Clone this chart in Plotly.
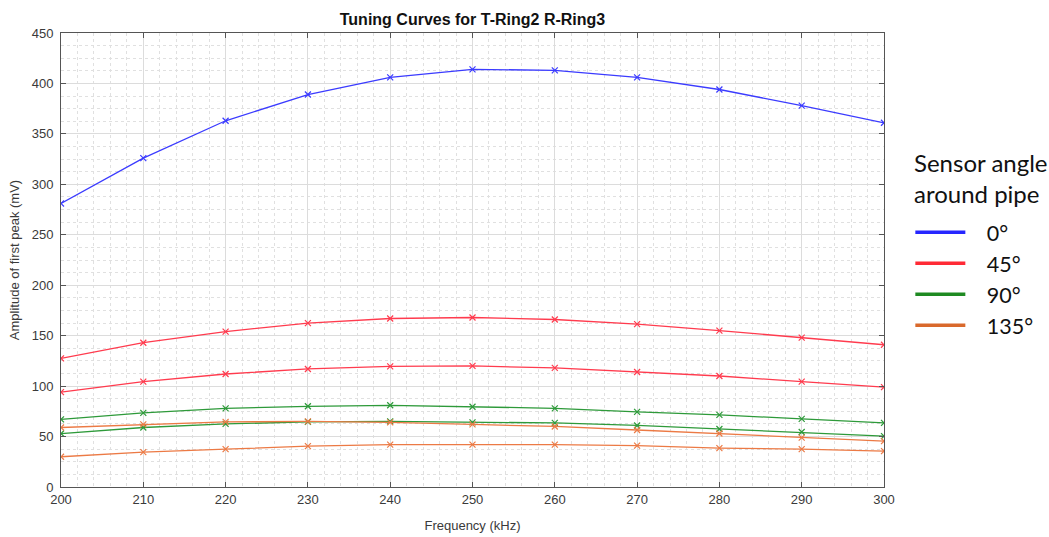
import plotly.graph_objects as go

freq = [200, 210, 220, 230, 240, 250, 260, 270, 280, 290, 300]

deg0 = [281, 326, 363, 389, 406, 414, 413, 406, 394, 378, 361]
deg45_a = [127.5, 143, 154, 162.5, 167, 168, 166, 161.5, 155, 148, 141]
deg45_b = [94, 104.5, 112, 117, 119.5, 120, 118, 114, 110, 104.5, 99]
deg90_a = [67, 73.5, 78, 80, 81, 79.5, 78, 74.5, 71.5, 67.5, 63.5]
deg90_b = [53, 59, 62.5, 64.5, 65, 64, 63.5, 61, 57.5, 54.5, 50.5]
deg135_a = [59, 62, 64.5, 65, 64, 62, 60, 56.5, 53, 49, 45.5]
deg135_b = [30, 34.5, 37.5, 40.5, 42, 42, 42, 41, 38.5, 37.5, 35.5]

legend_title = "Sensor angle<br>around pipe"
legend_labels = ["0°", "45°", "90°", "135°"]
colors = ["#3b3bff", "#ff3b4e", "#2e9a3a", "#ec7a45"]
legend_colors = ["#2626ff", "#ff2a35", "#1f8a22", "#d9692c"]

groups = [
    [deg0],
    [deg45_a, deg45_b],
    [deg90_a, deg90_b],
    [deg135_a, deg135_b],
]

fig = go.Figure()
for gi, series_list in enumerate(groups):
    for s in series_list:
        fig.add_trace(go.Scatter(
            x=freq, y=s, mode="lines+markers",
            line=dict(color=colors[gi], width=1.3),
            marker=dict(symbol="x-thin", size=6,
                        line=dict(color=colors[gi], width=1.2)),
            showlegend=False, hoverinfo="x+y",
        ))

for gi, lab in enumerate(legend_labels):
    fig.add_trace(go.Scatter(
        x=[None], y=[None], mode="lines", name="&nbsp;&nbsp;&nbsp;" + lab,
        line=dict(color=legend_colors[gi], width=3.5),
        legendgroup=lab, showlegend=True,
    ))

axis_font = dict(family="Liberation Sans, Arial, sans-serif", size=13, color="#3a3a3a")
axis_common = dict(
    showline=True, linecolor="#555555", linewidth=1, mirror="ticks",
    ticks="inside", ticklen=5, tickcolor="#555555",
    showgrid=True, gridcolor="#dcdcdc", gridwidth=1,
    zeroline=False, automargin=False,
    tickfont=axis_font,
)

fig.update_xaxes(
    range=[200, 300], dtick=10, tick0=200,
    title=dict(text="Frequency (kHz)", font=axis_font, standoff=15),
    minor=dict(dtick=2, showgrid=True, gridcolor="#e0e0e0", griddash="dot", gridwidth=1, ticks=""),
    **axis_common,
)
fig.update_yaxes(
    range=[0, 450], dtick=50, tick0=0, ticklabelstandoff=4,
    title=dict(text="Amplitude of first peak (mV)", font=axis_font, standoff=9),
    minor=dict(dtick=12.5, showgrid=True, gridcolor="#e0e0e0", griddash="dot", gridwidth=1, ticks=""),
    **axis_common,
)

fig.add_annotation(
    text=legend_title, xref="paper", yref="paper", x=1.034, y=0.680,
    xanchor="left", yanchor="middle", align="left", showarrow=False,
    font=dict(family="Lato, Open Sans, sans-serif", size=24, color="#111111"),
)

fig.update_layout(
    width=1049, height=537,
    margin=dict(l=61, r=165, t=33, b=50, autoexpand=False),
    plot_bgcolor="white", paper_bgcolor="white",
    title=dict(text="<b>Tuning Curves for T-Ring2 R-Ring3</b>", xref="paper", x=0.5, xanchor="center",
               y=0.964, yanchor="middle",
               font=dict(family="Liberation Sans, Arial, sans-serif", size=16, color="#111111")),
    legend=dict(
        font=dict(family="Lato, Open Sans, sans-serif", size=21.5, color="#111111"),
        x=1.032, y=0.606, xanchor="left", yanchor="top",
        bgcolor="rgba(0,0,0,0)", borderwidth=0,
        tracegroupgap=0, itemwidth=50,
    ),
)

fig.write_html("out.html", config={"displayModeBar": False},
               post_script="document.body.style.margin='0';document.body.style.overflow='hidden';")
